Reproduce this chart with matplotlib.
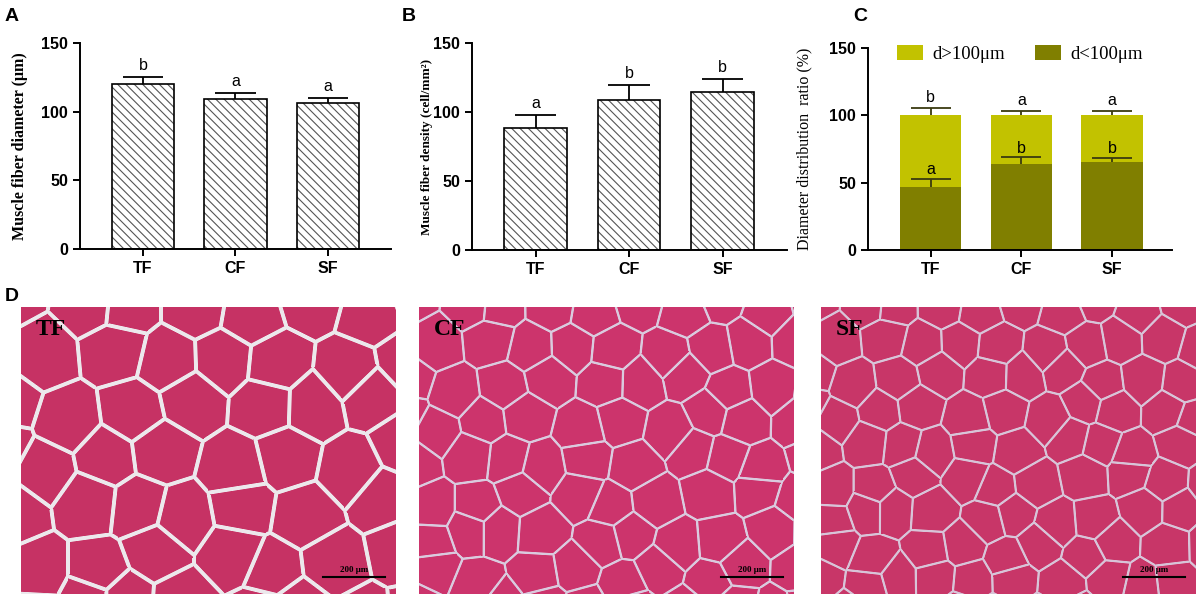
import numpy as np
import matplotlib
matplotlib.use('Agg')
import matplotlib.pyplot as plt

plt.rcParams['font.family'] = ['Liberation Sans', 'DejaVu Sans']

groups = ['TF', 'CF', 'SF']

# A - muscle fiber diameter (um)
diam = [120, 109, 106]
diam_err = [5, 4.5, 4]
diam_sig = ['b', 'a', 'a']

# B - muscle fiber density (cell/mm2)
dens = [88.5, 109, 114.5]
dens_err = [9, 10.5, 9.5]
dens_sig = ['a', 'b', 'b']

# C - diameter distribution ratio (%)
small = [47, 63.5, 65.5]
small_err = [6, 5.5, 3]
small_sig = ['a', 'b', 'b']
large = [53, 36.5, 34.5]
large_err = [5.5, 3.5, 3.5]
large_sig = ['b', 'a', 'a']

light = '#c2c200'
dark = '#807f00'

fig = plt.figure(figsize=(12, 5.98), dpi=100)
W, H = 1200.0, 598.0


def add_ax(l, r, top, bot):
    return fig.add_axes([l / W, 1 - bot / H, (r - l) / W, (bot - top) / H])


def style(ax, xlim):
    ax.set_xlim(*xlim)
    ax.set_ylim(0, 150)
    ax.set_yticks([0, 50, 100, 150])
    ax.set_xticks(range(3))
    ax.set_xticklabels(groups)
    for s in ['top', 'right']:
        ax.spines[s].set_visible(False)
    for s in ['left', 'bottom']:
        ax.spines[s].set_linewidth(1.4)
    ax.tick_params(width=1.4, length=5, labelsize=11.5)
    for t in ax.get_xticklabels() + ax.get_yticklabels():
        t.set_fontweight('bold')


def up_err(ax, x, y, e, color='black', cap=0.22):
    ax.vlines(x, y, y + e, color=color, lw=1.3, zorder=4)
    ax.hlines(y + e, x - cap, x + cap, color=color, lw=1.3, zorder=4)


def hatched(ax, vals, errs, sig):
    x = np.arange(3)
    ax.bar(x, vals, width=0.67, color='white', edgecolor='#555555',
           hatch='\\\\\\\\', linewidth=0, zorder=2)
    ax.bar(x, vals, width=0.67, fill=False, edgecolor='black', linewidth=1.2, zorder=3)
    for i in range(3):
        up_err(ax, x[i], vals[i], errs[i])
        ax.annotate(sig[i], (x[i], vals[i] + errs[i]), xytext=(0, 3),
                    textcoords='offset points', ha='center', va='bottom', fontsize=11.5)


plt.rcParams['hatch.linewidth'] = 0.8

# panel A
axA = add_ax(80, 391, 43, 249)
hatched(axA, diam, diam_err, diam_sig)
style(axA, (-0.68, 2.68))
axA.set_ylabel('Muscle fiber diameter (μm)', family='Liberation Serif',
               fontweight='bold', fontsize=11.5)
axA.yaxis.set_label_coords(-0.167, 0.5)

# panel B
axB = add_ax(472, 787, 43, 250)
hatched(axB, dens, dens_err, dens_sig)
style(axB, (-0.68, 2.69))
axB.set_ylabel('Muscle fiber density (cell/mm²)', family='Liberation Serif',
               fontweight='bold', fontsize=9.5)
axB.yaxis.set_label_coords(-0.124, 0.5)

# panel C
axC = add_ax(868, 1172, 48, 250)
xc = np.arange(3)
axC.bar(xc, small, width=0.68, color=dark, zorder=2, label='d<100μm')
axC.bar(xc, large, width=0.68, bottom=small, color=light, zorder=2, label='d>100μm')
for i in range(3):
    top = small[i] + large[i]
    up_err(axC, xc[i], top, large_err[i], color='#3a3a10')
    up_err(axC, xc[i], small[i], small_err[i], color='#3a3a10')
    axC.annotate(large_sig[i], (xc[i], top + large_err[i]), xytext=(0, 2),
                 textcoords='offset points', ha='center', va='bottom', fontsize=11.5)
    axC.annotate(small_sig[i], (xc[i], small[i] + small_err[i]), xytext=(0, 1),
                 textcoords='offset points', ha='center', va='bottom', fontsize=11.5)
style(axC, (-0.69, 2.66))
h, l = axC.get_legend_handles_labels()
axC.legend(h[::-1], l[::-1], ncol=2, frameon=False, loc='upper center',
           bbox_to_anchor=(0.5, 1.1), prop={'family': 'Liberation Serif', 'size': 13.5},
           handlelength=1.4, handleheight=0.9, handletextpad=0.5, columnspacing=1.6)
axC.set_ylabel('Diameter distribution  ratio (%)', family='Liberation Serif', fontsize=11.5)
axC.yaxis.set_label_coords(-0.184, 0.5)

# panel letters
for x, y, s in [(5, 8, 'A'), (402, 8, 'B'), (853, 8, 'C'), (5, 288, 'D')]:
    fig.text(x / W, 1 - y / H, s, fontsize=14, fontweight='bold', va='top')


# D - micrograph stand-ins (fiber outlines sized like each group)
def frac(v):
    return v - np.floor(v)


def fiber_texture(w, h, s, wall, wall_rgb, fill_rgb):
    ys, xs = np.mgrid[0:h, 0:w].astype(float)
    pts = []
    for j in range(-1, int(h / (0.87 * s)) + 3):
        for i in range(-1, int(w / s) + 3):
            hx = frac(np.sin(i * 12.9898 + j * 78.233) * 43758.5453)
            hy = frac(np.sin(i * 39.346 + j * 11.135) * 24634.6345)
            pts.append(((i + 0.5 * (j % 2) + 0.5 * (hx - 0.5)) * s,
                        (j * 0.87 + 0.5 * (hy - 0.5)) * s))
    pts = np.array(pts)
    d2 = (xs[None] - pts[:, 0, None, None]) ** 2 + (ys[None] - pts[:, 1, None, None]) ** 2
    order = np.argsort(d2, axis=0)[:2]
    a, b = order[0], order[1]
    da = np.take_along_axis(d2, a[None], 0)[0]
    db = np.take_along_axis(d2, b[None], 0)[0]
    sep = np.hypot(pts[a, 0] - pts[b, 0], pts[a, 1] - pts[b, 1])
    dist = (db - da) / (2 * sep)
    t = np.clip((dist - wall / 2) / 0.8, 0, 1)[..., None]
    img = np.array(wall_rgb)[None, None] * (1 - t) + np.array(fill_rgb)[None, None] * t
    return img / 255.0


panels = [
    ('TF', 21, 396, 58, 3.2, (236, 232, 236), (198, 50, 100)),
    ('CF', 419, 794, 44, 1.6, (218, 202, 222), (204, 52, 108)),
    ('SF', 821, 1196, 40, 1.5, (216, 196, 216), (200, 54, 104)),
]
for name, l, r, s, wall, wc, fc in panels:
    ax = add_ax(l, r, 307, 594)
    img = fiber_texture(int(r - l), 287, s, wall, wc, fc)
    ax.imshow(img, extent=(0, 1, 0, 1), aspect='auto', interpolation='bilinear')
    ax.set_xlim(0, 1)
    ax.set_ylim(0, 1)
    ax.axis('off')
    ax.text(0.04, 0.92, name, transform=ax.transAxes, family='Liberation Serif',
            fontweight='bold', fontsize=17, va='center', ha='left')
    ax.plot([0.805, 0.97], [0.058, 0.058], color='black', lw=1.5)
    ax.text(0.8875, 0.07, '200 μm', transform=ax.transAxes, family='Liberation Serif',
            fontweight='bold', fontsize=6.5, ha='center', va='bottom')

fig.savefig('out.png', dpi=100)
